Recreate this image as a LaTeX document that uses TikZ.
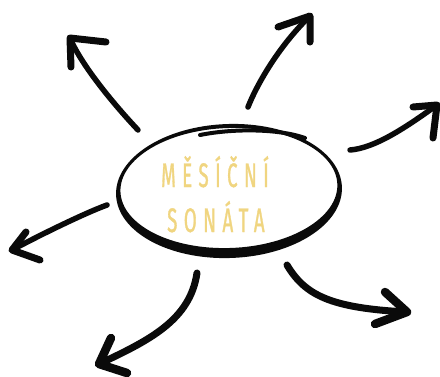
\documentclass[tikz,border=0pt]{standalone}
\usepackage{fontspec}
\newfontfamily\sonfont[FakeStretch=0.55,LetterSpace=19,FakeBold=0.9]{Fira Sans}
\definecolor{sonata}{RGB}{240,213,128}
\definecolor{ink}{RGB}{10,10,10}
\begin{document}
\begin{tikzpicture}[x=1pt,y=-1pt,
  brush/.style={draw=ink, line width=#1, line cap=round, line join=round},
  titletext/.style={font=\sonfont\fontsize{34}{34}\selectfont, text=sonata, anchor=base west, inner sep=0pt}]
\useasboundingbox[fill=white] (0,0) rectangle (440,376);
% central oval
\coordinate (oc) at (229,191);
\fill[ink, even odd rule, rotate around={2:(oc)}]
  (229,191) ellipse [x radius=113pt, y radius=67pt]
  (229,188) ellipse [x radius=108.5pt, y radius=60pt];
\coordinate (ov-a) at (200,135);
\coordinate (ov-b) at (305,138);
\draw[brush=4pt] (ov-a) .. controls (235,128) and (280,129) .. (ov-b);
% title
\node[titletext] (line1) at (161,187) {MĚSÍČNÍ};
\node[titletext] (line2) at (167,232) {SONÁTA};
% upper-left arrow
\coordinate (ul-t) at (138,130); \coordinate (ul-h) at (70,38);
\coordinate (ul-a) at (106,42);  \coordinate (ul-b) at (71,67);
\draw[brush=5.5pt] (ul-t) .. controls (108,98) and (80,62) .. (ul-h);
\draw[brush=7pt] (ul-a) -- (ul-h) -- (ul-b);
% upper-centre arrow
\coordinate (uc-t) at (248,107); \coordinate (uc-h) at (310,16);
\coordinate (uc-a) at (278,27);  \coordinate (uc-b) at (310,42);
\draw[brush=5.5pt] (uc-t) .. controls (258,82) and (280,45) .. (uc-h);
\draw[brush=7pt] (uc-a) -- (uc-h) -- (uc-b);
% right arrow
\coordinate (r-t) at (350,150); \coordinate (r-h) at (437,105);
\coordinate (r-a) at (413,107); \coordinate (r-b) at (433,138);
\draw[brush=5.5pt] (r-t) .. controls (375,148) and (405,128) .. (r-h);
\draw[brush=7pt] (r-a) -- (r-h) -- (r-b);
% left arrow
\coordinate (l-t) at (107,205); \coordinate (l-h) at (12,250);
\coordinate (l-a) at (26,232);  \coordinate (l-b) at (40,260);
\draw[brush=5.5pt] (l-t) .. controls (85,213) and (40,235) .. (l-h);
\draw[brush=7pt] (l-a) -- (l-h) -- (l-b);
% lower-left arrow
\coordinate (ll-t) at (197,273); \coordinate (ll-h) at (99,364);
\coordinate (ll-a) at (111,338); \coordinate (ll-b) at (127,373);
\draw[brush=7pt] (ll-t) .. controls (190,320) and (150,340) .. (ll-h);
\draw[brush=8.5pt] (ll-a) -- (ll-h) -- (ll-b);
% lower-right arrow
\coordinate (lr-t) at (287,265); \coordinate (lr-h) at (407,312);
\coordinate (lr-a) at (385,292); \coordinate (lr-b) at (375,324);
\draw[brush=7pt] (lr-t) .. controls (305,295) and (330,308) .. (lr-h);
\draw[brush=8.5pt] (lr-a) -- (lr-h) -- (lr-b);
\end{tikzpicture}
\end{document}
